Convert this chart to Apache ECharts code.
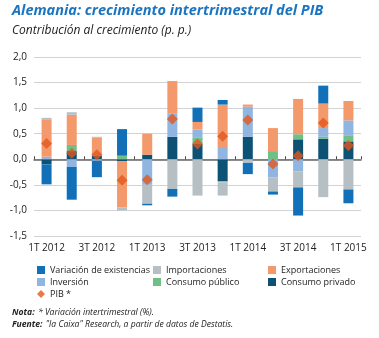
<!DOCTYPE html>
<html>
<head>
<meta charset="utf-8">
<script src="https://cdn.jsdelivr.net/npm/echarts@6/dist/echarts.min.js"></script>
<style>
html,body{margin:0;padding:0;background:#fff;}
#chart{width:379px;height:338px;}
</style>
</head>
<body>
<div id="chart"></div>
<script>
var categories = ['1T 2012','2T 2012','3T 2012','4T 2012','1T 2013','2T 2013','3T 2013','4T 2013','1T 2014','2T 2014','3T 2014','4T 2014','1T 2015'];
var consumoPrivado = [-0.10, 0.16, 0.07, -0.04, 0.09, 0.44, 0.30, -0.43, 0.44, 0.00, 0.39, 0.40, 0.35];
var consumoPublico = [0.00, 0.12, 0.00, 0.07, 0.00, 0.00, 0.13, -0.02, 0.00, 0.16, 0.10, 0.04, 0.12];
var inversion = [0.05, -0.15, -0.03, 0.00, -0.50, 0.46, 0.15, 0.24, 0.59, -0.35, -0.24, 0.17, 0.29];
var exportaciones = [0.72, 0.59, 0.36, -0.90, 0.41, 0.63, 0.15, 0.83, 0.04, 0.45, 0.69, 0.48, 0.38];
var importaciones = [0.04, 0.05, 0.01, -0.06, -0.37, -0.58, -0.71, -0.26, -0.07, -0.28, -0.31, -0.74, -0.59];
var existencias = [-0.39, -0.64, -0.32, 0.52, -0.03, -0.15, 0.28, 0.09, -0.22, -0.06, -0.55, 0.35, -0.27];
var pib = [0.31, 0.12, 0.09, -0.41, -0.40, 0.79, 0.30, 0.45, 0.77, -0.09, 0.07, 0.71, 0.27];

var colors = {
  existencias: '#1170b8',
  importaciones: '#b5bfc4',
  exportaciones: '#f4996c',
  inversion: '#8fb5e0',
  publico: '#70bf87',
  privado: '#0d5274',
  pib: '#e2571d'
};

var font = '"Open Sans", "Noto Sans", sans-serif';
var small = '"Open Sans", sans-serif';
var smallSize = 9;
var noteSize = 8.6;

var chart = echarts.init(document.getElementById('chart'));

function bar(name, data, color) {
  return {
    name: name, type: 'bar', stack: 'a', data: data, barWidth: 10,
    itemStyle: { color: color }, xAxisIndex: 0
  };
}

var legendText = { fontSize: smallSize, color: '#222', fontFamily: small, lineHeight: 12 };

var option = {
  animation: false,
  textStyle: { fontFamily: font },
  grid: { left: 34, right: 18, top: 57, bottom: 102, containLabel: false },
  xAxis: [{
    type: 'category', data: categories, position: 'bottom',
    axisLine: { show: false, onZero: false },
    axisTick: { show: false },
    axisLabel: { interval: 1, color: '#222', fontSize: 10, margin: 7, fontFamily: font },
    splitLine: { show: false }
  }, {
    type: 'category', data: categories, position: 'top',
    axisLine: { show: true, onZero: true, lineStyle: { color: '#666', width: 1.5 } },
    axisTick: { show: true, interval: 1, length: 3, lineStyle: { color: '#444' } },
    axisLabel: { show: false },
    splitLine: { show: false }
  }],
  yAxis: {
    type: 'value', min: -1.5, max: 2.0, interval: 0.5,
    axisLine: { show: false }, axisTick: { show: false },
    axisLabel: {
      color: '#222', fontSize: 10, margin: 7, fontFamily: font,
      formatter: function (v) { return v.toFixed(1).replace('.', ','); }
    },
    splitLine: { lineStyle: { color: '#d3d3d3', width: 1 } }
  },
  legend: [{
    left: 37, top: 264, orient: 'vertical', itemWidth: 8, itemHeight: 8, itemGap: 0, padding: 0,
    textStyle: legendText,
    data: [{ name: 'Variación de existencias', icon: 'rect' }, { name: 'Inversión', icon: 'rect' }, { name: 'PIB *', icon: 'diamond' }]
  }, {
    left: 153, top: 264, orient: 'vertical', itemWidth: 8, itemHeight: 8, itemGap: 0, padding: 0,
    textStyle: legendText,
    data: [{ name: 'Importaciones', icon: 'rect' }, { name: 'Consumo público', icon: 'rect' }]
  }, {
    left: 268, top: 264, orient: 'vertical', itemWidth: 8, itemHeight: 8, itemGap: 0, padding: 0,
    textStyle: legendText,
    data: [{ name: 'Exportaciones', icon: 'rect' }, { name: 'Consumo privado', icon: 'rect' }]
  }],
  series: [
    bar('Consumo privado', consumoPrivado, colors.privado),
    bar('Consumo público', consumoPublico, colors.publico),
    bar('Inversión', inversion, colors.inversion),
    bar('Exportaciones', exportaciones, colors.exportaciones),
    bar('Importaciones', importaciones, colors.importaciones),
    bar('Variación de existencias', existencias, colors.existencias),
    {
      name: 'PIB *', type: 'scatter', data: pib, symbol: 'diamond', symbolSize: 11,
      itemStyle: { color: colors.pib }, z: 5, xAxisIndex: 0
    }
  ],
  graphic: [
    { type: 'text', left: 12, top: 3, style: { text: 'Alemania: crecimiento intertrimestral del PIB', fill: '#1a74bf', font: 'italic bold 14.5px ' + font } },
    { type: 'text', left: 12, top: 25, style: { text: 'Contribución al crecimiento (p. p.)', fill: '#222', font: 'italic 12px ' + font } },
    { type: 'text', left: 12, top: 307, style: {
      rich: { b: { font: 'italic bold ' + noteSize + 'px ' + small, fill: '#222' }, n: { font: 'italic ' + noteSize + 'px ' + small, fill: '#222' } },
      text: '{b|Nota:} {n|* Variación intertrimestral (%).}'
    } },
    { type: 'text', left: 12, top: 319, style: {
      rich: { b: { font: 'italic bold ' + noteSize + 'px ' + small, fill: '#222' }, n: { font: 'italic ' + noteSize + 'px ' + small, fill: '#222' } },
      text: '{b|Fuente:} {n|"la Caixa" Research, a partir de datos de Destatis.}'
    } }
  ]
};
chart.setOption(option);
</script>
</body>
</html>
